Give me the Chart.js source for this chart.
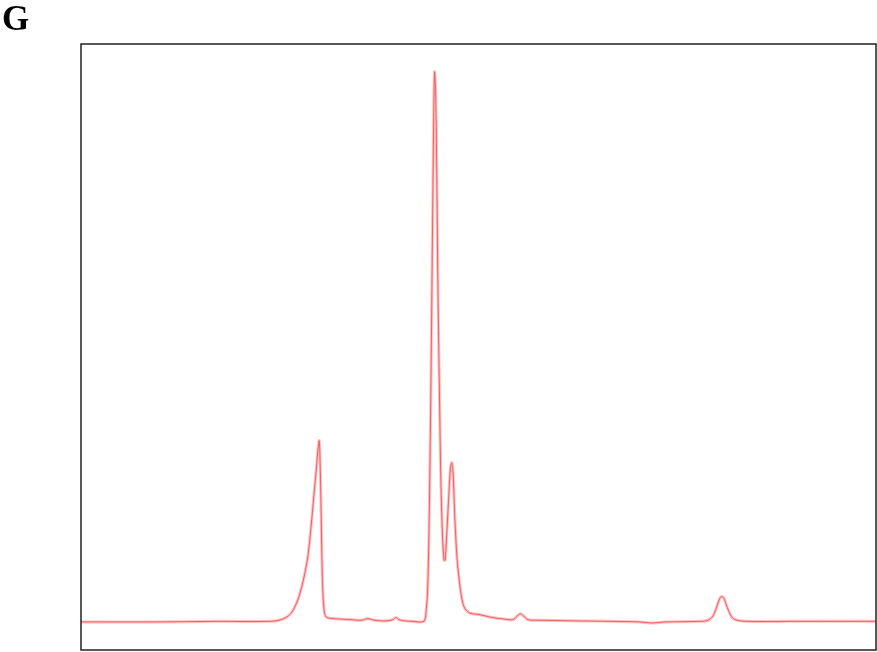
<!DOCTYPE html>
<html lang="en">
<head>
    <meta charset="UTF-8">
    <title>Chromatogram G</title>
    <script src="https://cdn.jsdelivr.net/npm/chart.js"></script>
    <style>
        body { margin: 0; background: #fff; }
    </style>
</head>
<body>
    <canvas id="chromChart" width="877" height="652"></canvas>
    <script>
        // Retention time (min) and signal (mAU)
        const retentionTimes = [
            0.00, 2.60, 5.25, 7.13, 7.51, 7.77, 7.96, 8.15, 8.30, 8.45,
            8.57, 8.68, 8.79, 8.89, 8.94, 8.99, 9.03, 9.06, 9.11, 9.17,
            9.25, 9.47, 9.85, 10.23, 10.45, 10.64, 10.83, 11.02, 11.28, 11.58,
            11.77, 11.89, 12.00, 12.19, 12.49, 12.94, 13.02, 13.08, 13.13, 13.19,
            13.25, 13.30, 13.34, 13.38, 13.42, 13.47, 13.53, 13.58, 13.64, 13.70,
            13.74, 13.79, 13.87, 13.94, 13.99, 14.04, 14.11, 14.19, 14.28, 14.38,
            14.49, 14.68, 15.06, 15.51, 16.00, 16.30, 16.45, 16.58, 16.72, 16.87,
            17.32, 18.45, 19.96, 21.09, 21.55, 22.04, 23.36, 23.66, 23.85, 24.00,
            24.11, 24.19, 24.26, 24.38, 24.53, 24.68, 25.06, 26.75, 28.64, 30.00
        ];
        const signal = [
            0.1, 0.1, 0.2, 0.2, 0.45, 1.0, 1.9, 3.7, 5.9, 9.0,
            12.3, 17.3, 23.1, 28.4, 31.3, 33.0, 27.7, 20.4, 7.7, 2.3,
            1.0, 0.7, 0.6, 0.5, 0.4, 0.45, 0.7, 0.45, 0.3, 0.3,
            0.5, 0.9, 0.5, 0.3, 0.2, 0.2, 1.9, 5.9, 15.9, 36.8,
            64.0, 87.6, 99.9, 96.7, 83.9, 60.4, 40.4, 25.9, 15.9, 11.3,
            11.3, 15.0, 22.2, 28.0, 29.0, 27.3, 18.6, 11.7, 7.4, 4.1,
            2.5, 1.7, 1.4, 0.9, 0.6, 0.5, 1.1, 1.6, 1.1, 0.5,
            0.4, 0.3, 0.2, 0.1, -0.1, 0.1, 0.2, 0.4, 1.2, 3.0,
            4.4, 4.7, 4.4, 2.8, 1.2, 0.5, 0.2, 0.2, 0.2, 0.2
        ];
        const panelLabel = 'G';

        const points = retentionTimes.map((t, i) => ({ x: t, y: signal[i] }));

        // frame around the plot area plus the panel letter
        const framePlugin = {
            id: 'framePlugin',
            afterDraw: (chart) => {
                const ctx = chart.ctx;
                const a = chart.chartArea;
                ctx.save();
                ctx.strokeStyle = '#222';
                ctx.lineWidth = 1.5;
                ctx.strokeRect(a.left, a.top, a.right - a.left, a.bottom - a.top);
                ctx.fillStyle = '#000';
                ctx.font = 'bold 35px "Liberation Serif", "DejaVu Serif", serif';
                ctx.textBaseline = 'alphabetic';
                ctx.fillText(panelLabel, 2, 30);
                ctx.restore();
            }
        };

        const ctx = document.getElementById('chromChart').getContext('2d');
        const chart = new Chart(ctx, {
            type: 'line',
            data: {
                datasets: [
                    {
                        data: points,
                        borderColor: 'rgba(255, 140, 140, 0.55)',
                        borderWidth: 3,
                        pointRadius: 0,
                        tension: 0.3,
                        fill: false
                    },
                    {
                        data: points,
                        borderColor: 'rgba(220, 20, 30, 0.9)',
                        borderWidth: 1,
                        pointRadius: 0,
                        tension: 0.3,
                        fill: false
                    }
                ]
            },
            options: {
                responsive: false,
                animation: false,
                layout: {
                    padding: { left: 81, top: 44, right: 1, bottom: 2 }
                },
                scales: {
                    x: { type: 'linear', min: 0, max: 30, display: false },
                    y: { min: -5, max: 105, display: false }
                },
                plugins: {
                    legend: { display: false },
                    tooltip: { enabled: false }
                }
            },
            plugins: [framePlugin]
        });
    </script>
</body>
</html>
